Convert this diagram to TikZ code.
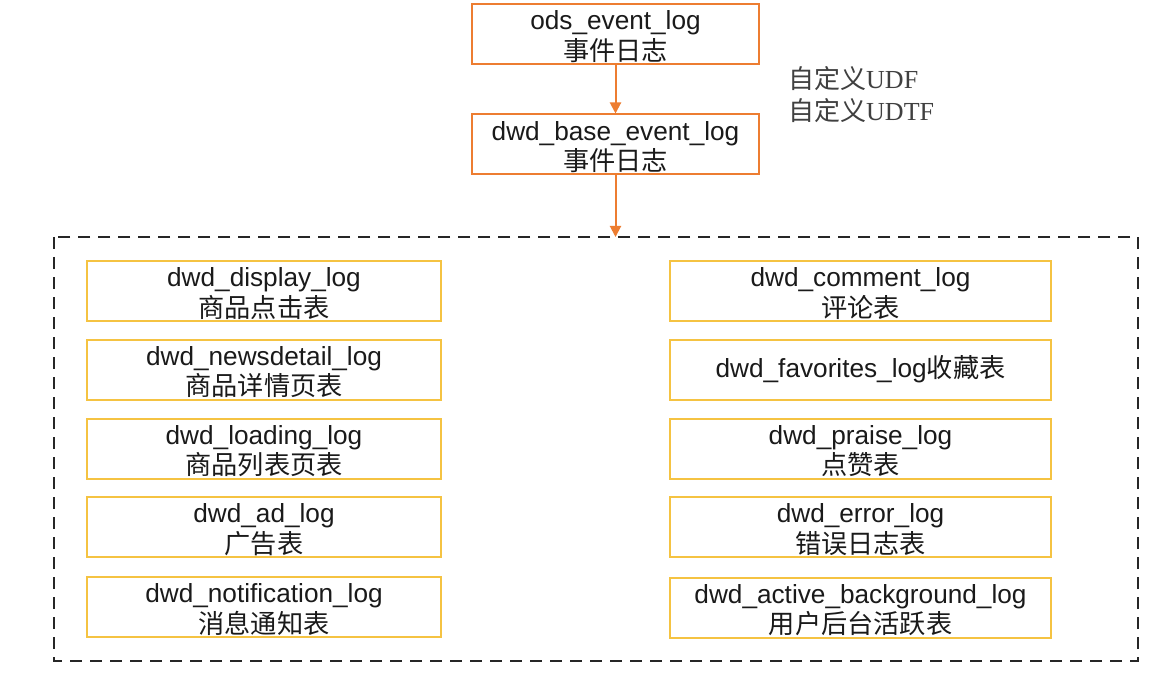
\documentclass[tikz,border=0pt]{standalone}
\usepackage{fontspec}
\setmainfont{Liberation Sans}
\newfontfamily\cjk{Noto Sans CJK SC}
\newfontfamily\serifroman{Liberation Serif}
\usetikzlibrary{arrows.meta}
\newcommand\boxstrut{\rule{0pt}{24.5pt}}
\definecolor{orangeline}{HTML}{ED7D31}
\definecolor{goldline}{HTML}{F5C342}
\definecolor{txt}{HTML}{1A1A1A}
\tikzset{
  topbox/.style={draw=orangeline, line width=2pt, minimum width=287pt, minimum height=60pt, inner sep=0pt, align=center, text=txt, font=\fontsize{26.2}{30.5}\selectfont},
  tablebox/.style={draw=goldline, line width=2pt, minimum height=60pt, inner sep=0pt, align=center, text=txt, font=\fontsize{26.2}{30.5}\selectfont},
  leftbox/.style={tablebox, minimum width=354pt},
  rightbox/.style={tablebox, minimum width=381pt},
  flow/.style={draw=orangeline, line width=2pt, -{Triangle[length=11pt,width=11pt]}},
  groupframe/.style={draw=black!85, line width=2.5pt, dash pattern=on 12pt off 8pt},
  note/.style={anchor=west, inner sep=0pt, text=black!75, font=\fontsize{26}{32}\selectfont, align=left}
}
\begin{document}
\begin{tikzpicture}[x=1pt,y=-1pt]
\useasboundingbox (0,0) rectangle (1169,676);
\fill[white] (0,0) rectangle (1169,676);

\node[topbox] (ods) at (615.5,34) {\boxstrut ods\_event\_log\\{\cjk 事件日志}};
\node[topbox] (base) at (615.5,144.5) {\boxstrut dwd\_base\_event\_log\\{\cjk 事件日志}};
\node[note] (udf) at (788,95) {{\cjk 自定义}{\serifroman UDF}\\{\cjk 自定义}{\serifroman UDTF}};

\draw[groupframe] (54,237) rectangle (1138,661);
\coordinate (frametop) at (615.5,237);

\draw[flow] (ods.south) -- (base.north);
\draw[flow] (base.south) -- (frametop);

\node[leftbox] (display) at (264,291) {\boxstrut dwd\_display\_log\\{\cjk 商品点击表}};
\node[leftbox] (newsdetail) at (264,369.5) {\boxstrut dwd\_newsdetail\_log\\{\cjk 商品详情页表}};
\node[leftbox] (loading) at (264,448.5) {\boxstrut dwd\_loading\_log\\{\cjk 商品列表页表}};
\node[leftbox] (ad) at (264,527) {\boxstrut dwd\_ad\_log\\{\cjk 广告表}};
\node[leftbox] (notification) at (264,607) {\boxstrut dwd\_notification\_log\\{\cjk 消息通知表}};

\node[rightbox] (comment) at (860.5,291) {\boxstrut dwd\_comment\_log\\{\cjk 评论表}};
\node[rightbox] (favorites) at (860.5,369.5) {dwd\_favorites\_log{\cjk 收藏表}};
\node[rightbox] (praise) at (860.5,448.5) {\boxstrut dwd\_praise\_log\\{\cjk 点赞表}};
\node[rightbox] (error) at (860.5,527) {\boxstrut dwd\_error\_log\\{\cjk 错误日志表}};
\node[rightbox] (active) at (860.5,607.5) {\boxstrut dwd\_active\_background\_log\\{\cjk 用户后台活跃表}};
\end{tikzpicture}
\end{document}
